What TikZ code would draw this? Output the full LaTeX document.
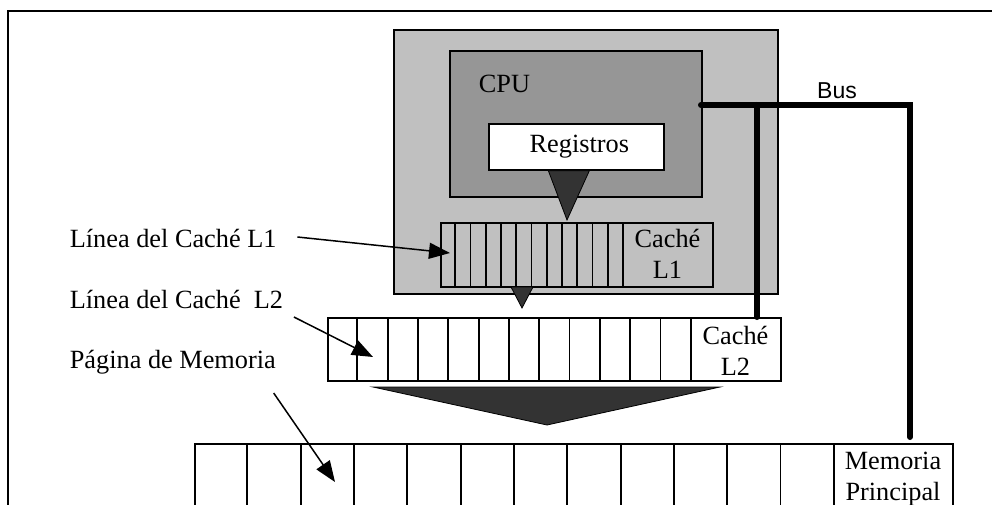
\documentclass[tikz,border=0pt]{standalone}
\usepackage{fontspec}
\setmainfont{Liberation Serif}
\newfontfamily\busfont{Liberation Sans}
\usepackage{tikz}
\usetikzlibrary{arrows.meta}
\definecolor{chipgray}{RGB}{192,192,192}
\definecolor{cpugray}{RGB}{150,150,150}
\definecolor{funnel}{RGB}{51,51,51}

\begin{document}
\begin{tikzpicture}[x=1pt,y=-1pt,line width=1.7pt,
  box/.style={draw,inner sep=0pt,anchor=north west},
  lbl/.style={font=\fontsize{26.3}{31}\selectfont,inner sep=0pt},
  ptr/.style={line width=1.5pt,-{Triangle[length=21pt,width=16pt]}},
  bus/.style={line width=6pt,line cap=round,line join=miter}]
\useasboundingbox (0,0) rectangle (992,505);
\draw (8,520) -- (8,11) -- (1000,11);
% chip with CPU and L1
\node[box,fill=chipgray,minimum width=384pt,minimum height=264pt] (chip) at (393,29) {};
\node[box,fill=cpugray,minimum width=252pt,minimum height=146pt] (cpu) at (449,50) {};
\node[lbl,anchor=base west] (cpulbl) at (478,93) {CPU};
\node[box,fill=white,minimum width=175pt,minimum height=46pt,lbl,anchor=north west] (regs) at (488,123) {\hspace{6pt}Registros};
\node[box,minimum width=272pt,minimum height=64pt] (l1) at (440,222) {};
\foreach \i in {1,...,12} \draw (440+15.25*\i,222) -- (440+15.25*\i,286);
\node[lbl,align=center] (l1lbl) at (667.5,254) {Caché\\L1};
% L2
\node[box,fill=white,minimum width=453pt,minimum height=63pt] (l2) at (327,317) {};
\foreach \i in {1,...,12} \draw (327+30.33*\i,317) -- (327+30.33*\i,380);
\node[lbl,align=center] (l2lbl) at (735.5,351) {Caché\\L2};
% memoria
\node[box,fill=white,minimum width=758pt,minimum height=80pt] (mem) at (194,443) {};
\foreach \i in {1,...,12} \draw (194+53.33*\i,443) -- (194+53.33*\i,520);
\node[lbl,align=center,anchor=north] (memlbl) at (893,451) {Memoria\\Principal};
% flechas de bloque
\filldraw[funnel,draw=black,line width=0.8pt] (regs.south) ++(-28,0) -- ++(41,0) -- (567,220) -- cycle;
\filldraw[funnel,draw=black,line width=0.8pt] (511,287) -- (533,287) -- (522,308) -- cycle;
\filldraw[funnel,draw=black,line width=0.8pt] (373,387) -- (720,387) -- (547,425) -- cycle;
% bus
\draw[bus] (701,105) -- (910,105) -- (910,437);
\draw[bus] (757,105) -- (757,317);
\node[font=\busfont\fontsize{23}{26}\selectfont,inner sep=0pt,anchor=base] (buslbl) at (837,99) {Bus};
% etiquetas
\node[lbl,anchor=base west] (linea1) at (69,247) {Línea del Caché L1};
\node[lbl,anchor=base west] (linea2) at (69,308) {Línea del Caché\ \ L2};
\node[lbl,anchor=base west] (pagina) at (69,368) {Página de Memoria};
\coordinate (tip1) at (450,253);
\coordinate (tip2) at (373,357);
\coordinate (tip3) at (335,482);
\draw[ptr] ([xshift=20pt,yshift=10pt]linea1.base east) -- (tip1);
\draw[ptr] ([xshift=10pt,yshift=-9pt]linea2.base east) -- (tip2);
\draw[ptr] ([xshift=-3pt,yshift=-25pt]pagina.base east) -- (tip3);
\end{tikzpicture}
\end{document}
